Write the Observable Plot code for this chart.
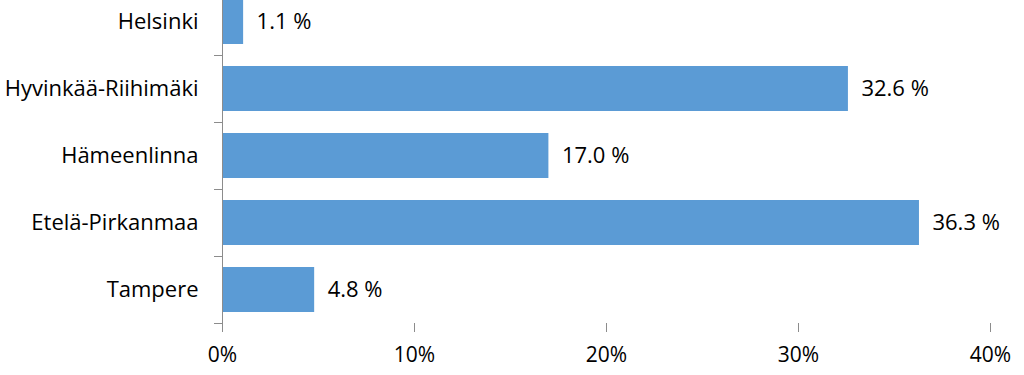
<!DOCTYPE html>
<html>
<head>
<meta charset="utf-8">
<script src="https://cdn.jsdelivr.net/npm/d3@7"></script>
<script src="https://cdn.jsdelivr.net/npm/@observablehq/plot@0.6"></script>
<style>
  html, body { margin: 0; padding: 0; background: #fff; overflow: hidden; }
  #chart { width: 1024px; height: 375px; overflow: hidden; }
  #chart svg { display: block; margin-top: -12px; }
</style>
</head>
<body>
<div id="chart"></div>
<script>
const categories = ["Helsinki", "Hyvinkää-Riihimäki", "Hämeenlinna", "Etelä-Pirkanmaa", "Tampere"];
const values = [1.1, 32.6, 17.0, 36.3, 4.8];
const xTicks = [0, 10, 20, 30, 40];

const data = categories.map((c, i) => ({category: c, value: values[i]}));
const FONT = "'Open Sans', sans-serif";
const AXIS = "#8c8c8c";

const chart = Plot.plot({
  width: 1024,
  height: 387,
  marginTop: 0,
  marginBottom: 52,
  marginLeft: 222,
  marginRight: 34,
  style: {fontFamily: FONT, fontSize: "22px", color: "#000", background: "#fff"},
  x: {domain: [0, 40], ticks: xTicks, tickFormat: d => d + "%"},
  y: {domain: categories, paddingInner: 0.33, paddingOuter: 0.165},
  marks: [
    Plot.barX(data, {y: "category", x: "value", fill: "#5B9BD5"}),
    Plot.text(data, {y: "category", x: "value", text: d => d.value.toFixed(1) + " %",
      textAnchor: "start", dx: 13, fontSize: 22, fill: "#000"}),
    Plot.ruleX([0], {stroke: AXIS, strokeWidth: 1, insetBottom: -9}),
    Plot.ruleY([0], {stroke: AXIS, strokeWidth: 1}),
    Plot.axisX({ticks: xTicks, tickSize: 9, stroke: AXIS, tickPadding: 15, fontSize: 21, fill: "#000", tickFormat: d => d + "%", label: null}),
    Plot.axisY({tickSize: 0, tickPadding: 24, fontSize: 22, fill: "#000", label: null}),
    Plot.axisY({ticks: categories, tickSize: 8, tickFormat: null, stroke: AXIS, dy: 33.5, label: null})
  ]
});
document.getElementById("chart").appendChild(chart);
</script>
</body>
</html>
